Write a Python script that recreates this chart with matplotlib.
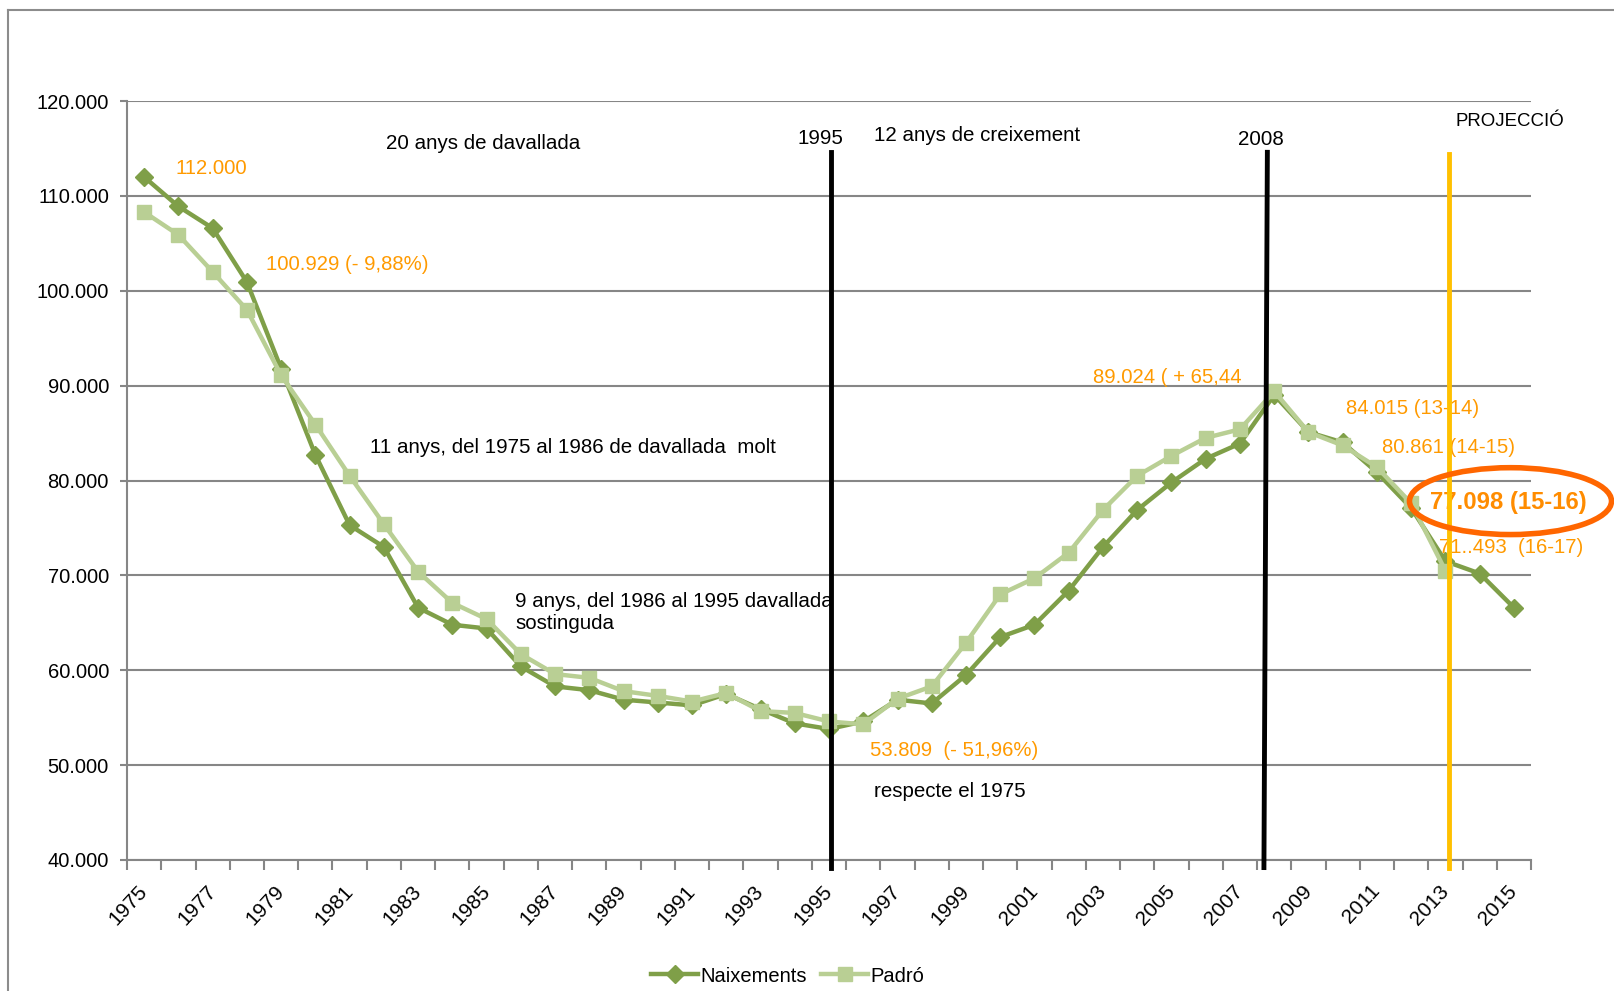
"""Naixements vs Padró, 1975-2015, amb anotacions de períodes."""
import numpy as np
import matplotlib
matplotlib.use("Agg")
import matplotlib.pyplot as plt
from matplotlib.patches import Ellipse
from matplotlib.lines import Line2D
from matplotlib.transforms import ScaledTranslation

DARK = "#7f9f48"
LIGHT = "#b9cf94"
ORANGE = "#ff9a00"
GRID = "#868686"
ARIAL = ["Liberation Sans", "DejaVu Sans"]

years = list(range(1975, 2016))
naixements = [112000, 108900, 106600, 100929, 91800, 82700, 75300, 73000, 66600,
              64800, 64400, 60400, 58300, 57900, 56900, 56600, 56300, 57500,
              55900, 54400, 53809, 54600, 56900, 56500, 59500, 63500, 64800,
              68400, 73000, 76900, 79800, 82300, 83900, 89024, 85100, 84015,
              80861, 77098, 71493, 70200, 66600]
padro = [108300, 105900, 102000, 98000, 91100, 85900, 80500, 75400, 70400,
         67100, 65400, 61700, 59600, 59200, 57800, 57300, 56700, 57600, 55700,
         55500, 54600, 54300, 57000, 58300, 62900, 68000, 69700, 72400, 76900,
         80500, 82600, 84500, 85400, 89400, 85100, 83700, 81400, 77600, 70500,
         np.nan, np.nan]
series_names = ["Naixements", "Padró"]

x = np.arange(len(years))

fig = plt.figure(figsize=(16.14, 9.91), dpi=100)
ax = fig.add_axes([0.0787, 0.1322, 0.8699, 0.7658])

ax.plot(x, naixements, color=DARK, lw=3.2, marker="D", ms=9, mec=DARK,
        label=series_names[0], zorder=3)
ax.plot(x, padro, color=LIGHT, lw=3.2, marker="s", ms=10.5, mec=LIGHT,
        label=series_names[1], zorder=4)

# vertical markers
ax.plot([20.06, 20.06], [114600, 39200], color="black", lw=3.5, clip_on=False, zorder=5)
ax.plot([32.8, 32.7], [114600, 39200], color="black", lw=3.5, clip_on=False, zorder=5)
ax.plot([38.1, 38.1], [114400, 39200], color="#ffc000", lw=3.5, clip_on=False, zorder=5)

ax.set_xlim(-0.5, len(years) - 0.5)
ax.set_ylim(40000, 120000)
ax.set_yticks(np.arange(40000, 120001, 10000))
ax.set_yticklabels([f"{v:,.0f}".replace(",", ".") for v in np.arange(40000, 120001, 10000)],
                   fontsize=14.5, family=ARIAL)
ax.grid(axis="y", color=GRID, lw=1.5)
ax.set_axisbelow(True)

ax.set_xticks(np.arange(-0.5, len(years), 1))
ax.set_xticklabels([])
ax.set_xticks(x[::2], minor=True)
ax.set_xticklabels([str(y) for y in years[::2]], minor=True, rotation=47,
                   ha="right", va="center", rotation_mode="anchor",
                   fontsize=15, family=ARIAL)
shift = ScaledTranslation(10 / 100, 0, fig.dpi_scale_trans)
for lab in ax.get_xticklabels(minor=True):
    lab.set_transform(lab.get_transform() + shift)
ax.tick_params(axis="x", which="major", length=7, color=GRID, width=1.5, direction="out")
ax.tick_params(axis="x", which="minor", length=0, pad=20)
ax.tick_params(axis="y", length=5, color=GRID, width=1.5, pad=8)
for s in ("top", "right"):
    ax.spines[s].set_visible(False)
for s in ("left", "bottom"):
    ax.spines[s].set_color(GRID)
    ax.spines[s].set_linewidth(1.5)

black_txt = dict(color="black", fontsize=14.8, family=ARIAL, va="center")
orange_txt = dict(color=ORANGE, fontsize=14.6, family=ARIAL, va="center")

ax.text(7.07, 115560, "20 anys de davallada", **black_txt)
ax.text(19.76, 116100, "1995", ha="center", **black_txt)
ax.text(21.32, 116420, "12 anys de creixement", **black_txt)
ax.text(32.62, 115990, "2008", ha="center", **black_txt)
ax.text(38.3, 117830, "PROJECCIÓ", color="black", fontsize=13.4, family=ARIAL, va="center")
ax.text(6.59, 83470, "11 anys, del 1975 al 1986 de davallada  molt", **black_txt)
ax.text(10.83, 66100, "9 anys, del 1986 al 1995 davallada\nsostinguda",
        linespacing=1.25, **black_txt)
ax.text(21.32, 47260, "respecte el 1975", **black_txt)

ax.text(0.91, 112850, "112.000", **orange_txt)
ax.text(3.56, 102760, "100.929 (- 9,88%)", **orange_txt)
ax.text(27.72, 90840, "89.024 ( + 65,44", **orange_txt)
ax.text(21.2, 51490, "53.809  (- 51,96%)", **orange_txt)
ax.text(35.09, 87590, "84.015 (13-14)", **orange_txt)
ax.text(36.14, 83470, "80.861 (14-15)", **orange_txt)
ax.text(37.55, 77720, "77.098 (15-16)", color="#ff8c00", fontsize=17.2,
        fontweight="bold", family=ARIAL, va="center", clip_on=False)
ax.text(37.82, 72950, "71..493  (16-17)", clip_on=False, **orange_txt)

ax.add_patch(Ellipse((39.9, 77830), 5.9, 7050, fill=False, ec="#ff6600",
                     lw=4, clip_on=False, zorder=6))

fig.legend(loc="center", bbox_to_anchor=(788 / 1614, 1 - 976 / 991), ncol=2,
           frameon=False, prop={"family": ARIAL, "size": 14.5},
           handlelength=2.3, columnspacing=0.7, handletextpad=0.15)

# outer chart-area border
fig.add_artist(Line2D([8 / 1614, 1], [1 - 10 / 991] * 2, color="#8c8c8c", lw=1.5))
fig.add_artist(Line2D([8 / 1614] * 2, [0, 1 - 10 / 991], color="#8c8c8c", lw=1.5))

fig.savefig("out.png", dpi=100)
